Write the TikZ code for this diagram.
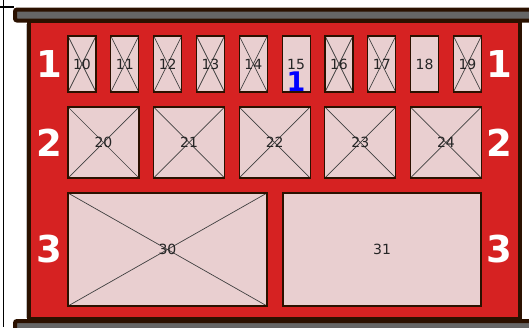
\documentclass[tikz,border=0pt]{standalone}
\usepackage{fontspec}
\setmainfont{DejaVu Sans}
\usetikzlibrary{positioning}
\definecolor{boxred}{RGB}{214,34,34}
\definecolor{fusepink}{RGB}{233,207,208}
\definecolor{darkbrown}{RGB}{43,17,0}
\definecolor{bargray}{RGB}{102,102,102}

\begin{document}
\begin{tikzpicture}[x=1pt,y=-1pt,
  fuse/.style={draw=darkbrown,fill=fusepink,line width=1.2pt,inner sep=0pt,
    font=\fontsize{14}{16}\selectfont,text=black!85},
  blown/.style={path picture={
    \draw[black!75,line width=0.7pt]
      (path picture bounding box.north west) -- (path picture bounding box.south east)
      (path picture bounding box.north east) -- (path picture bounding box.south west);}},
  rowlbl/.style={white,inner sep=0pt,font=\bfseries\fontsize{37}{40}\selectfont}
]
  \useasboundingbox (0,0) rectangle (529,327);

  % frame lines at the edge
  \draw[line width=1.6pt] (3.3,0) -- (3.3,327);
  \draw[line width=1.2pt] (0,7) -- (14,7);

  % box body and rails
  \draw[black!25,line width=1pt] (26,24) -- (26,318);
  \draw[darkbrown,fill=boxred,line width=4pt] (29,21) rectangle (520,319);
  \draw[darkbrown,fill=bargray,line width=4pt,rounded corners=2pt] (15,9.5) rectangle (545,20.5);
  \draw[darkbrown,fill=bargray,line width=4pt,rounded corners=2pt] (15,321) rectangle (545,340);

  % row 1: small fuses (15 and 18 are intact)
  \foreach \n [count=\i from 0] in {10,...,19} {
    \ifnum\n=15 \def\st{}\else\ifnum\n=18 \def\st{}\else\def\st{blown}\fi\fi
    \node[fuse,\st,minimum width=28pt,minimum height=56pt] (f\n) at (82+42.83*\i,64) {\n};
  }
  % row 2
  \foreach \n [count=\i from 0] in {20,...,24}
    \node[fuse,blown,minimum width=71pt,minimum height=71pt] (f\n) at (103.5+85.6*\i,142.5) {\n};
  % row 3
  \node[fuse,blown,minimum width=199pt,minimum height=113pt] (f30) at (167.5,249.5) {30};
  \node[fuse,minimum width=198pt,minimum height=113pt] (f31) at (382,249.5) {31};

  % row numbers
  \foreach \r/\y in {1/64,2/143,3/249.5} {
    \node[rowlbl] (l\r) at (49,\y) {\r};
    \node[rowlbl] (r\r) at (499.5,\y) {\r};
  }

  \node[blue,inner sep=0pt,font=\bfseries\fontsize{27}{30}\selectfont] (mark) at (296,82) {1};
\end{tikzpicture}
\end{document}
